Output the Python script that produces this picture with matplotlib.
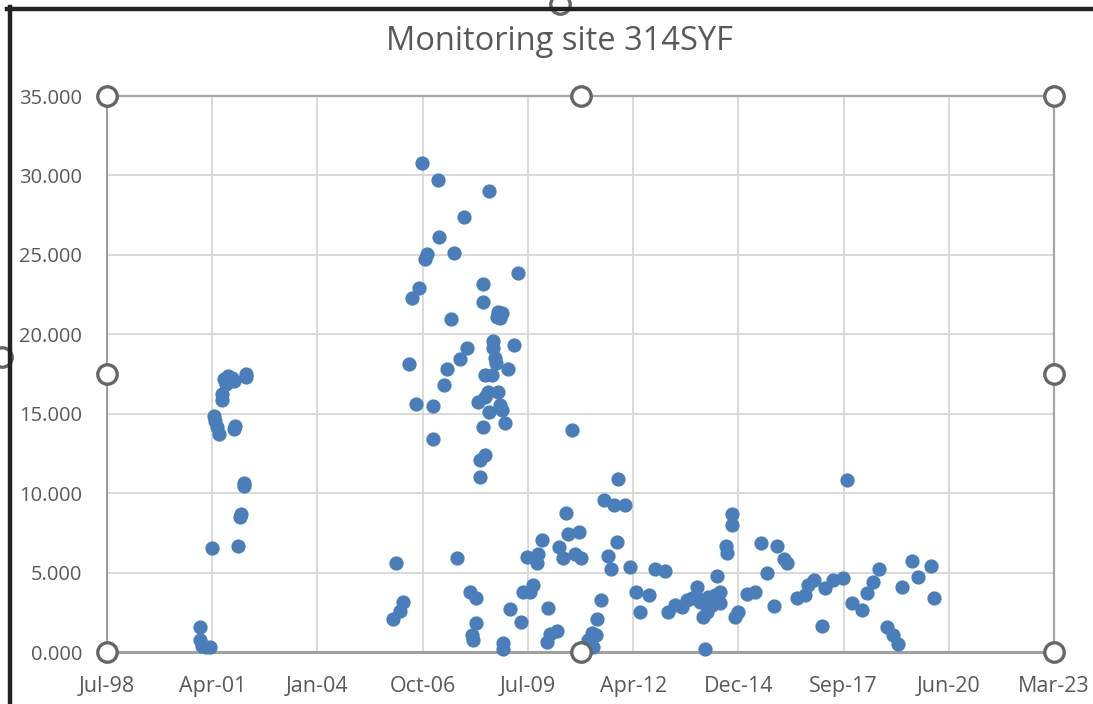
"""
Monitoring site 314SYF - concentration samples over time, redrawn from the Excel chart.
"""

import pandas as pd
import matplotlib
matplotlib.use("Agg")
import matplotlib.pyplot as plt
import matplotlib.dates as mdates
from matplotlib.lines import Line2D
from matplotlib.ticker import FixedLocator, FuncFormatter

TITLE = "Monitoring site 314SYF"

# sample dates as Excel serial day numbers (1900 date system)
sample_serial = [
    # 2001 campaign
    36884, 36884, 36903, 36941, 36979, 36998, 37245, 37264, 37274, 37302,
    37302, 37207, 37217, 37017, 37026, 37045, 37064, 37093, 37093, 37112,
    37150, 37188, 37131, 37207, 37321, 37321,
    # 2005-2010
    38718, 38785, 38813, 38747, 38870, 38899, 38937, 38965, 38994, 39022,
    39041, 39098, 39098, 39146, 39155, 39203, 39231, 39269, 39298, 39326,
    39355, 39393, 39421, 39450, 39507, 39469, 39478, 39507, 39526, 39545,
    39545, 39593, 39574, 39574, 39574, 39593, 39593, 39631, 39621, 39631,
    39659, 39669, 39669, 39688, 39697, 39716, 39707, 39716, 39735, 39754,
    39735, 39754, 39783, 39764, 39764, 39811, 39830, 39868, 39906, 39935,
    39954, 40020, 40049, 39992, 40096, 40087, 40134, 40191, 40182, 40210,
    # 2010-2020
    40277, 40296, 40334, 40362, 40381, 40419, 40448, 40486, 40505, 40571,
    40590, 40609, 40619, 40647, 40657, 40695, 40723, 40761, 40790, 40818,
    40847, 40856, 40923, 40971, 41028, 41066, 41151, 41208, 41303, 41332,
    41398, 41465, 41512, 41560, 41607, 41607, 41636, 41664, 41683, 41702,
    41712, 41750, 41778, 41826, 41826, 41797, 41883, 41892, 41940, 41940,
    41968, 41997, 42083, 42159, 42216, 42273, 42339, 42368, 42434, 42463,
    42558, 42634, 42662, 42719, 42795, 42824, 42900, 42995, 43033, 43080,
    43176, 43223, 43280, 43337, 43413, 43470, 43517, 43556, 43651, 43708,
    43831, 43860,
]

sample_value = [
    1.57, 0.76, 0.38, 0.31, 0.31, 6.55, 6.67, 8.50, 8.69, 10.45,
    10.64, 14.04, 14.23, 14.86, 14.54, 14.16, 13.72, 15.86, 16.24, 17.19,
    17.37, 17.25, 16.87, 17.06, 17.31, 17.50,
    2.08, 2.58, 3.15, 5.60, 18.13, 22.28, 15.61, 22.91, 30.78, 24.74,
    25.05, 15.49, 13.41, 29.71, 26.12, 16.81, 17.81, 20.96, 25.12, 5.92,
    18.44, 27.38, 19.14, 3.78, 3.40, 1.07, 0.76, 1.83, 15.74, 12.09,
    11.02, 12.40, 14.16, 23.17, 22.03, 16.05, 17.44, 15.11, 16.37, 29.02,
    17.44, 19.58, 19.14, 18.51, 18.19, 16.37, 21.09, 21.40, 21.02, 21.34,
    15.55, 15.23, 14.42, 0.57, 0.19, 17.81, 2.71, 19.32, 23.86, 1.89,
    3.78, 3.78, 4.22, 5.98, 6.17, 5.60, 7.05, 2.77, 0.63, 1.13,
    1.32, 6.61, 5.92, 8.75, 7.43, 13.97, 6.17, 7.55, 5.92, 0.76,
    0.44, 1.20, 0.31, 1.07, 2.08, 3.27, 9.57, 6.04, 5.22, 9.25,
    6.92, 10.89, 9.25, 5.35, 3.78, 2.52, 3.59, 5.22, 5.10, 2.52,
    2.96, 2.83, 3.27, 3.40, 3.40, 4.09, 3.15, 2.20, 0.19, 2.52,
    3.46, 2.96, 3.59, 3.78, 3.08, 4.78, 6.67, 6.23, 8.69, 7.99,
    2.20, 2.52, 3.65, 3.78, 6.86, 4.97, 2.90, 6.67, 5.85, 5.60,
    3.40, 3.59, 4.22, 4.53, 1.64, 4.03, 4.53, 4.66, 10.83, 3.08,
    2.64, 3.71, 4.41, 5.22, 1.57, 1.07, 0.50, 4.09, 5.73, 4.72,
    5.41, 3.40,
]

# axis settings taken from the Excel chart (date axis, major unit 1000 days)
x_tick_serial = list(range(36000, 45001, 1000))
y_ticks = [0, 5, 10, 15, 20, 25, 30, 35]


def serial_to_date(s):
    return pd.to_datetime(s, unit="D", origin="1899-12-30")


plt.rcParams["font.family"] = ["Open Sans", "DejaVu Sans"]
GREY_TEXT = "#595959"

dates = serial_to_date(pd.Series(sample_serial))
x_ticks = [mdates.date2num(serial_to_date(s)) for s in x_tick_serial]

fig = plt.figure(figsize=(10.93, 7.04), dpi=100)
ax = fig.add_axes([107 / 1093, 52 / 704, 947 / 1093, 556 / 704])

ax.scatter(dates, sample_value, s=105, color="#4a7ebb", linewidths=0,
           zorder=3, clip_on=False)

ax.set_xlim(x_ticks[0], x_ticks[-1])
ax.set_ylim(0, 35)
ax.xaxis.set_major_locator(FixedLocator(x_ticks))
ax.xaxis.set_major_formatter(mdates.DateFormatter("%b-%y"))
ax.set_yticks(y_ticks)
ax.yaxis.set_major_formatter(FuncFormatter(lambda v, _: f"{v:.3f}"))

ax.grid(True, color="#d9d9d9", linewidth=1.4)
ax.set_axisbelow(True)
ax.tick_params(length=0, labelcolor=GREY_TEXT)
ax.tick_params(axis="x", labelsize=15.5, pad=17)
ax.tick_params(axis="y", labelsize=14.5, pad=18)

for side in ["top", "right"]:
    ax.spines[side].set_color("#a6a6a6")
    ax.spines[side].set_linewidth(1.6)
ax.spines["left"].set_color("#8c8c8c")
ax.spines["left"].set_linewidth(1.2)
ax.spines["bottom"].set_color("#a0a0a0")
ax.spines["bottom"].set_linewidth(2.2)

fig.text(559 / 1093, 1 - 42 / 704, TITLE, ha="center", va="center",
         fontsize=23.5, color=GREY_TEXT)

# selection handles of the plot area (Excel screenshot)
for hx, hy in [(0, 0), (0.5, 0), (1, 0), (0, 0.5), (1, 0.5), (0, 1), (0.5, 1), (1, 1)]:
    ax.plot(hx, hy, "o", transform=ax.transAxes, ms=14, mfc="white",
            mec="#666666", mew=2.4, clip_on=False, zorder=5)

# screenshot frame + partly hidden chart-area handles
fig.add_artist(Line2D([560 / 1093], [1 - 4 / 704], marker="o", ms=14, mfc="white",
                      mec="#666666", mew=2.4, transform=fig.transFigure))
fig.add_artist(Line2D([2 / 1093], [1 - 357 / 704], marker="o", ms=14, mfc="white",
                      mec="#666666", mew=2.4, transform=fig.transFigure))
fig.add_artist(Line2D([7 / 1093, 1], [1 - 8.5 / 704, 1 - 8.5 / 704],
                      color="#222222", linewidth=3.2, transform=fig.transFigure))
fig.add_artist(Line2D([9.5 / 1093, 9.5 / 1093], [0, 1 - 7 / 704],
                      color="#222222", linewidth=3.2, transform=fig.transFigure))

fig.savefig("out.png", dpi=100)
